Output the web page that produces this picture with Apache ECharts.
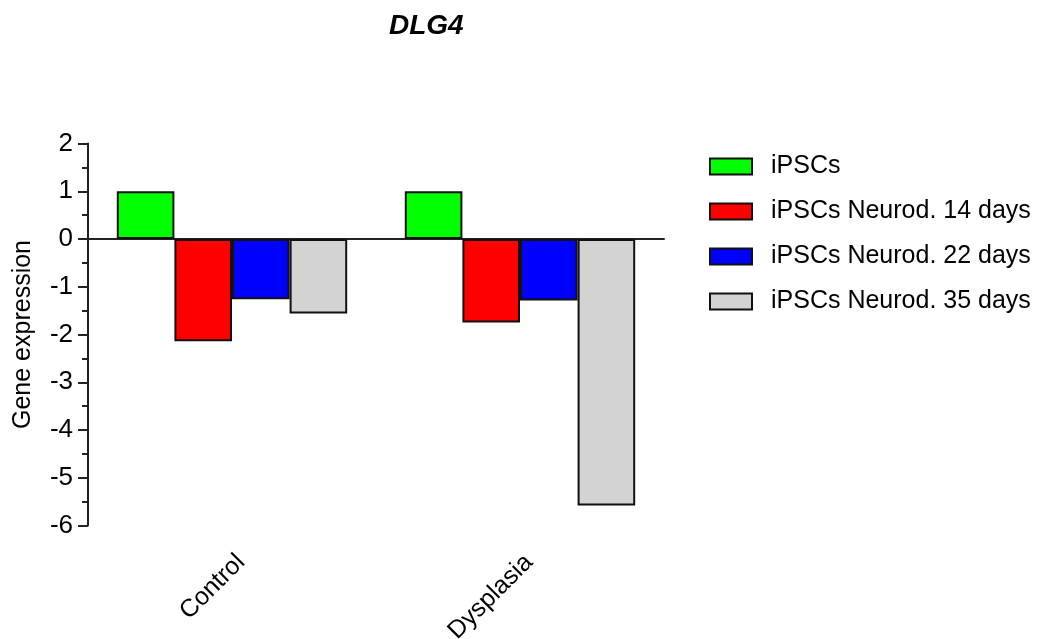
<!DOCTYPE html>
<html>
<head>
<meta charset="utf-8">
<title>DLG4</title>
<script src="https://cdn.jsdelivr.net/npm/echarts@6/dist/echarts.min.js"></script>
<style>
  html, body { margin: 0; padding: 0; background: #fff; }
  #chart { width: 1057px; height: 639px; }
</style>
</head>
<body>
<div id="chart"></div>
<script>
// Groups along the x axis
const categories = ['Control', 'Dysplasia'];

// Relative gene expression per differentiation stage
const seriesNames = ['iPSCs', 'iPSCs Neurod. 14 days', 'iPSCs Neurod. 22 days', 'iPSCs Neurod. 35 days'];
const ipscs       = [1.0, 1.0];
const neurod14    = [-2.14, -1.75];
const neurod22    = [-1.26, -1.29];
const neurod35    = [-1.56, -5.58];
const seriesColors = ['#00ff00', '#ff0000', '#0000ff', '#d3d3d3'];

// Y axis range and ticks
const yMin = -6;
const yMax = 2;
const yStep = 1;

const FONT = '"Liberation Sans", Arial, Helvetica, sans-serif';
const values = [ipscs, neurod14, neurod22, neurod35];

const chart = echarts.init(document.getElementById('chart'), null, { renderer: 'canvas' });

const plotGrid = { left: 88, top: 143.5, width: 576, height: 382, containLabel: false, outerBoundsMode: 'none' };
// Second grid carries only the rotated category labels
const labelGrid = { left: 97, top: 143.5, width: 576, height: 382, containLabel: false, outerBoundsMode: 'none' };

chart.setOption({
  backgroundColor: '#ffffff',
  animation: false,
  title: {
    text: 'DLG4',
    left: 384,
    top: 7,
    textStyle: { fontFamily: FONT, fontSize: 28, fontWeight: 'bold', fontStyle: 'italic', color: '#000' }
  },
  legend: {
    orient: 'vertical',
    left: 704,
    top: 149,
    itemWidth: 42,
    itemHeight: 16,
    itemGap: 20,
    icon: 'rect',
    data: seriesNames,
    textStyle: { fontFamily: FONT, fontSize: 25, color: '#000', padding: [0, 0, 0, 14] }
  },
  grid: [plotGrid, labelGrid],
  xAxis: [
    {
      type: 'category',
      gridIndex: 0,
      data: categories,
      axisLine: { show: true, onZero: true, lineStyle: { color: '#222', width: 2 } },
      axisTick: { show: false },
      axisLabel: { show: false },
      splitLine: { show: false }
    },
    {
      type: 'category',
      gridIndex: 1,
      data: categories,
      position: 'bottom',
      axisLine: { show: false, onZero: false },
      axisTick: { show: false },
      splitLine: { show: false },
      axisLabel: {
        rotate: 45,
        margin: 33,
        fontFamily: FONT,
        fontSize: 25,
        color: '#000'
      }
    }
  ],
  yAxis: [
    {
      type: 'value',
      gridIndex: 0,
      min: yMin,
      max: yMax,
      interval: yStep,
      name: 'Gene expression',
      nameLocation: 'middle',
      nameGap: 52,
      nameMoveOverlap: false,
      nameTextStyle: { fontFamily: FONT, fontSize: 25, color: '#000' },
      axisLine: { show: true, lineStyle: { color: '#222', width: 2 } },
      axisTick: { show: true, inside: false, length: 10, lineStyle: { color: '#222', width: 2 } },
      minorTick: { show: true, splitNumber: 2, length: 6, lineStyle: { color: '#222', width: 2 } },
      splitLine: { show: false },
      axisLabel: { margin: 15, fontFamily: FONT, fontSize: 26, color: '#000' }
    },
    {
      type: 'value',
      gridIndex: 1,
      min: yMin,
      max: yMax,
      show: false
    }
  ],
  series: seriesNames.map((name, i) => ({
    name: name,
    type: 'bar',
    xAxisIndex: 0,
    yAxisIndex: 0,
    data: values[i],
    barGap: '0%',
    barCategoryGap: '20%',
    itemStyle: { color: seriesColors[i], borderColor: '#111', borderWidth: 2 }
  }))
});
</script>
</body>
</html>
